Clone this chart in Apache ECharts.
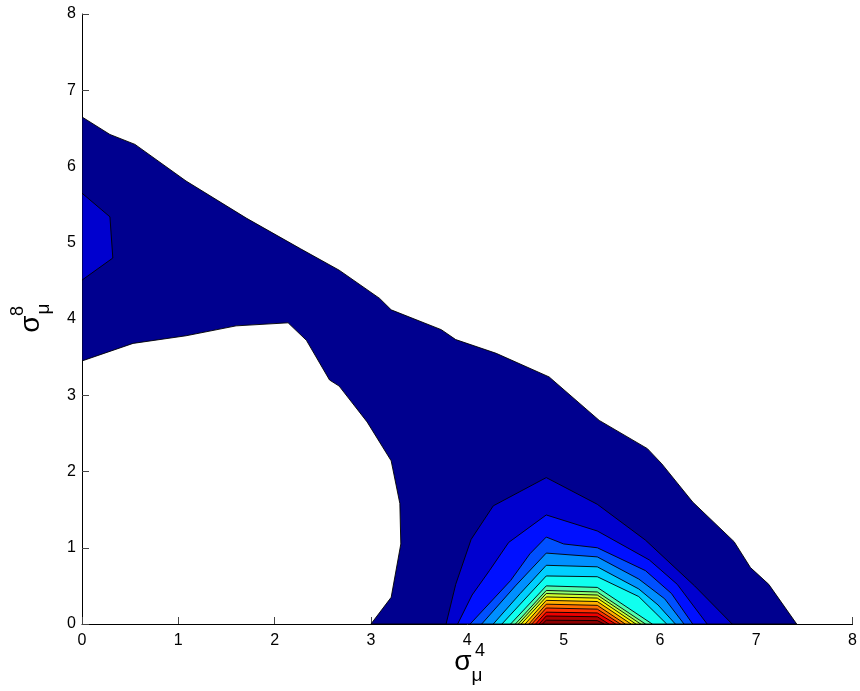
<!DOCTYPE html>
<html>
<head>
<meta charset="utf-8">
<script src="https://cdn.jsdelivr.net/npm/echarts@6/dist/echarts.min.js"></script>
<style>
  html, body { margin: 0; background: #fff; }
  #chart { width: 860px; height: 691px; }
</style>
</head>
<body>
<div id="chart"></div>
<script>
// axis ticks
const xTicks = [0, 1, 2, 3, 4, 5, 6, 7, 8];
const yTicks = [0, 1, 2, 3, 4, 5, 6, 7, 8];

// jet colours of the filled levels, lowest first
const levelColors = [
  '#00008F', '#0000CF', '#0010FF', '#0050FF', '#008FFF', '#00CFFF',
  '#10FFEF', '#50FFAF', '#8FFF6F', '#CFFF30', '#FFEF00', '#FFAF00',
  '#FF6F00', '#FF3000', '#EF0000', '#AF0000', '#8F0000'
];

// contour bands as [x, y] outlines
const band1 = [
  [0, 6.65], [0.29, 6.42], [0.55, 6.29], [1.08, 5.81], [1.71, 5.32], [2.27, 4.92],
  [2.67, 4.64], [3.09, 4.27], [3.21, 4.12], [3.73, 3.86], [3.88, 3.73], [4.30, 3.55],
  [4.85, 3.24], [5.37, 2.67], [5.87, 2.30], [6.02, 2.10], [6.34, 1.60], [6.77, 1.08],
  [6.94, 0.74], [7.13, 0.52], [7.42, 0], [3.00, 0], [3.21, 0.35], [3.31, 1.05],
  [3.30, 1.58], [3.21, 2.14], [2.96, 2.65], [2.67, 3.12], [2.57, 3.20], [2.33, 3.72],
  [2.14, 3.95], [1.60, 3.91], [1.08, 3.78], [0.53, 3.68], [0, 3.45]
];
const band2Left = [[0, 5.65], [0.29, 5.34], [0.32, 4.80], [0, 4.51]];
const band2 = [
  [3.78, 0], [3.88, 0.52], [4.04, 1.11], [4.27, 1.55], [4.82, 1.92], [5.35, 1.57],
  [5.85, 1.10], [6.36, 0.50], [6.75, 0]
];
const band3 = [
  [3.90, 0], [4.05, 0.38], [4.23, 0.70], [4.43, 1.07], [4.82, 1.43], [5.35, 1.22],
  [5.89, 0.84], [6.18, 0.52], [6.49, 0]
];
const band4 = [
  [4.03, 0], [4.45, 0.57], [4.65, 0.92], [4.82, 1.14], [5.00, 1.05], [5.35, 1.00],
  [5.85, 0.70], [6.12, 0.40], [6.34, 0]
];
const band5 = [
  [4.15, 0], [4.50, 0.50], [4.82, 0.93], [5.35, 0.88], [5.78, 0.59], [6.05, 0.33], [6.25, 0]
];
const band6 = [
  [4.27, 0], [4.55, 0.40], [4.82, 0.77], [5.35, 0.75], [5.78, 0.46], [5.98, 0.25], [6.16, 0]
];
const band7 = [
  [4.36, 0], [4.82, 0.63], [5.35, 0.62], [5.78, 0.36], [5.95, 0.15], [6.07, 0]
];
const band8 = [[4.45, 0], [4.82, 0.50], [5.35, 0.48], [5.92, 0]];
const band9 = [[4.50, 0], [4.82, 0.44], [5.35, 0.42], [5.85, 0]];
const band10 = [[4.53, 0], [4.82, 0.40], [5.35, 0.38], [5.80, 0]];
const band11 = [[4.56, 0], [4.82, 0.355], [5.35, 0.34], [5.75, 0]];
const band12 = [[4.60, 0], [4.82, 0.31], [5.35, 0.295], [5.70, 0]];
const band13 = [[4.64, 0], [4.82, 0.26], [5.35, 0.245], [5.64, 0]];
const band14 = [[4.67, 0], [4.82, 0.21], [5.35, 0.195], [5.59, 0]];
const band15 = [[4.71, 0], [4.82, 0.155], [5.35, 0.145], [5.54, 0]];
const band16 = [[4.745, 0], [4.82, 0.105], [5.35, 0.095], [5.47, 0]];
const band17 = [[4.78, 0], [4.82, 0.05], [5.35, 0.045], [5.42, 0]];

const contourBands = [band1, band2Left, band2, band3, band4, band5, band6, band7, band8,
  band9, band10, band11, band12, band13, band14, band15, band16, band17];
const bandLevels = [0, 1, 1, 2, 3, 4, 5, 6, 7, 8, 9, 10, 11, 12, 13, 14, 15, 16];

const chart = echarts.init(document.getElementById('chart'));

const labelFont = 'Liberation Sans, Arial, sans-serif';

function titleText(text, x, y, size, rot) {
  return {
    type: 'text', x: x, y: y, rotation: rot || 0,
    style: { text: text, font: size + 'px ' + labelFont, fill: '#000', align: 'center', verticalAlign: 'middle' }
  };
}

const option = {
  animation: false,
  backgroundColor: '#fff',
  grid: { left: 82, right: 5, top: 14, bottom: 67 },
  xAxis: {
    type: 'value',
    min: xTicks[0],
    max: xTicks[xTicks.length - 1],
    interval: 1,
    axisLine: { show: true, lineStyle: { color: '#000', width: 1 } },
    axisTick: { show: true, inside: true, length: 7, lineStyle: { color: '#444' } },
    axisLabel: { color: '#000', fontSize: 16, fontFamily: labelFont, margin: 9 },
    splitLine: { show: false }
  },
  yAxis: {
    type: 'value',
    min: yTicks[0],
    max: yTicks[yTicks.length - 1],
    interval: 1,
    axisLine: { show: true, lineStyle: { color: '#000', width: 1 } },
    axisTick: { show: true, inside: true, length: 7, lineStyle: { color: '#444' } },
    axisLabel: { color: '#000', fontSize: 16, fontFamily: labelFont, margin: 6 },
    splitLine: { show: false }
  },
  series: [{
    type: 'custom',
    clip: true,
    data: contourBands.map((b, i) => [i, bandLevels[i]]),
    encode: { x: -1, y: -1 },
    renderItem: function (params, api) {
      const band = contourBands[api.value(0)];
      const points = band.map(p => api.coord(p));
      return {
        type: 'polygon',
        shape: { points: points },
        style: { fill: levelColors[api.value(1)], stroke: '#000', lineWidth: 0.9 }
      };
    }
  }],
  graphic: [
    // x axis title: sigma, superscript 4, subscript mu
    titleText('σ', 463, 662, 28),
    titleText('4', 480, 651, 18),
    titleText('μ', 477, 676, 19),
    // y axis title, rotated to read upwards
    titleText('σ', 31, 324, 28, Math.PI / 2),
    titleText('8', 18, 311, 18, Math.PI / 2),
    titleText('μ', 44, 309, 19, Math.PI / 2)
  ]
};

chart.setOption(option);
</script>
</body>
</html>
